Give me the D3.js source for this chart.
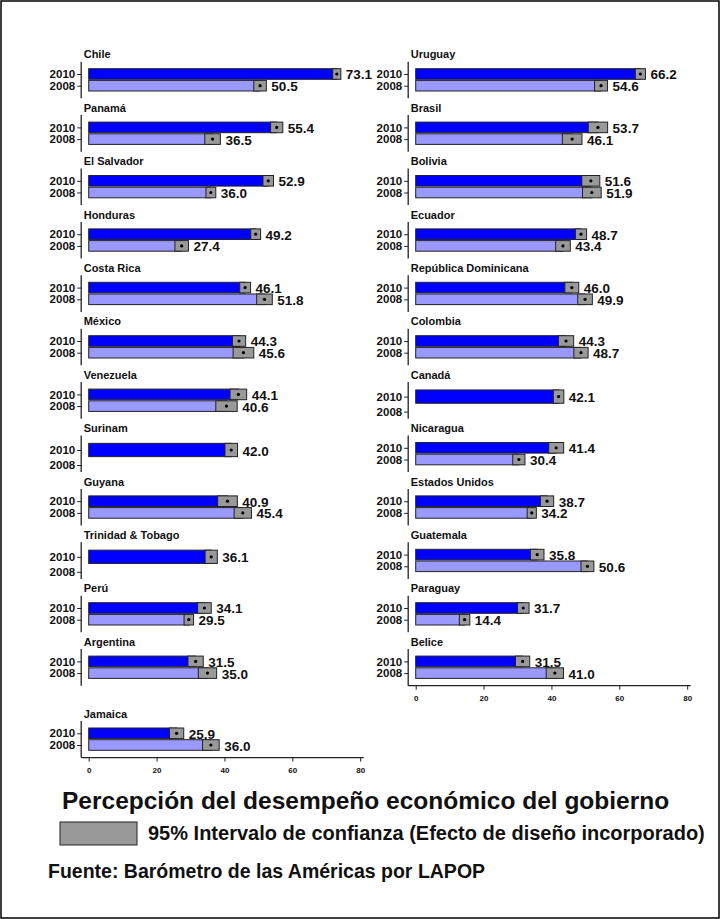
<!DOCTYPE html>
<html>
<head>
<meta charset="utf-8">
<script src="https://cdn.jsdelivr.net/npm/d3@7"></script>
<style>
  body { margin: 0; background: #fff; }
  text { font-family: "Liberation Sans", Arial, sans-serif; font-weight: bold; fill: #111; }
</style>
</head>
<body>
<div id="chart"></div>
<script>
const width = 720;
const height = 919;

// countries in rank order (2010), filled two per row
const countries = ["Chile", "Uruguay", "Panamá", "Brasil", "El Salvador", "Bolivia", "Honduras", "Ecuador",
  "Costa Rica", "República Dominicana", "México", "Colombia", "Venezuela", "Canadá", "Surinam", "Nicaragua",
  "Guyana", "Estados Unidos", "Trinidad & Tobago", "Guatemala", "Perú", "Paraguay", "Argentina", "Belice", "Jamaica"];
const v2010 = [73.1, 66.2, 55.4, 53.7, 52.9, 51.6, 49.2, 48.7, 46.1, 46.0, 44.3, 44.3, 44.1, 42.1, 42.0, 41.4,
  40.9, 38.7, 36.1, 35.8, 34.1, 31.7, 31.5, 31.5, 25.9];
const v2008 = [50.5, 54.6, 36.5, 46.1, 36.0, 51.9, 27.4, 43.4, 51.8, 49.9, 45.6, 48.7, 40.6, null, null, 30.4,
  45.4, 34.2, null, 50.6, 29.5, 14.4, 35.0, 41.0, 36.0];
// half width of the 95% interval
const ci2010 = [1.2, 1.5, 1.8, 2.85, 1.55, 2.65, 1.45, 1.65, 1.6, 2.05, 1.95, 2.25, 2.45, 1.55, 1.85, 2.2,
  2.9, 1.95, 1.8, 2.0, 2.0, 1.7, 2.25, 2.1, 2.1];
const ci2008 = [1.85, 1.9, 2.3, 2.9, 1.45, 2.75, 2.0, 2.15, 2.3, 2.15, 3.05, 2.1, 3.15, null, null, 1.8,
  2.55, 1.35, null, 1.9, 1.4, 1.55, 2.7, 2.55, 2.45];
const years = ["2010", "2008"];
const xTicks = [0, 20, 40, 60, 80];

const title = "Percepción del desempeño económico del gobierno";
const legendText = "95% Intervalo de confianza (Efecto de diseño incorporado)";
const source = "Fuente: Barómetro de las Américas por LAPOP";

const colors = { "2010": "#0000ff", "2008": "#9999ff" };
const ciFill = "#999999";

const svg = d3.select('#chart')
  .append('svg')
  .attr('width', width)
  .attr('height', height);

svg.append('rect')
  .attr('x', 1).attr('y', 1)
  .attr('width', width - 2).attr('height', height - 2)
  .attr('fill', 'none').attr('stroke', '#000').attr('stroke-width', 1.5);

// layout
const colX0 = [88.7, 415.7];
const plotW = 271.5;
const rowTop0 = 61.7;
const rowStep = 53.4;
const plotH = 36.6;
const lastRowShift = 18.5;

const xScales = colX0.map(x0 => d3.scaleLinear().domain([0, 80]).range([x0, x0 + plotW]));

const yFull = d3.scalePoint().domain(years).range([12.3, 24]);
const ySingle = d3.scalePoint().domain(years).range([14.5, 29.5]);

const panels = countries.map((c, i) => {
  const col = i % 2;
  const row = Math.floor(i / 2);
  const bars = [{ year: "2010", v: v2010[i], ci: ci2010[i] }];
  if (v2008[i] != null) bars.push({ year: "2008", v: v2008[i], ci: ci2008[i] });
  return { name: c, col, row, bars };
});

const lastRow = [0, 1].map(col => d3.max(panels.filter(p => p.col === col), p => p.row));

panels.forEach(p => {
  const x = xScales[p.col];
  const axisX = x(0) - 7.5;
  const top = rowTop0 + p.row * rowStep + (p.row === 12 ? lastRowShift : 0);
  const single = p.bars.length === 1;
  const y = single ? ySingle : yFull;
  const barH = single ? 13.3 : 10.6;

  const g = svg.append('g').attr('transform', `translate(0,${top})`);

  g.append('text')
    .attr('x', axisX + 2.5)
    .attr('y', -3.4)
    .attr('font-size', 11)
    .text(p.name);

  const yAxis = g.append('g')
    .attr('transform', `translate(${axisX},0)`)
    .call(d3.axisLeft(y).tickSize(4).tickPadding(2));
  yAxis.select('.domain').remove();
  yAxis.selectAll('line').attr('stroke', '#222');
  yAxis.selectAll('text')
    .attr('font-size', 11.5)
    .attr('font-family', '"Liberation Sans", Arial, sans-serif')
    .attr('fill', '#111');
  g.append('line')
    .attr('x1', axisX).attr('x2', axisX)
    .attr('y1', 0).attr('y2', plotH)
    .attr('stroke', '#222').attr('stroke-width', 1.3);

  const bar = g.selectAll('.bar')
    .data(p.bars)
    .enter()
    .append('g');

  bar.append('rect')
    .attr('x', x(0))
    .attr('y', d => y(d.year) - barH / 2)
    .attr('width', d => x(d.v) - x(0))
    .attr('height', barH)
    .attr('fill', d => colors[d.year])
    .attr('stroke', '#222')
    .attr('stroke-width', 1);

  bar.append('rect')
    .attr('x', d => x(d.v - d.ci))
    .attr('y', d => y(d.year) - barH / 2)
    .attr('width', d => x(d.v + d.ci) - x(d.v - d.ci))
    .attr('height', barH)
    .attr('fill', ciFill)
    .attr('stroke', '#222')
    .attr('stroke-width', 1);

  bar.append('circle')
    .attr('cx', d => x(d.v))
    .attr('cy', d => y(d.year))
    .attr('r', 1.6)
    .attr('fill', '#000');

  bar.append('text')
    .attr('x', d => x(d.v + d.ci) + 5)
    .attr('y', d => y(d.year) + 5.5)
    .attr('font-size', 13.5)
    .text(d => d.v.toFixed(1));

  if (p.row === lastRow[p.col]) {
    const xAxis = g.append('g')
      .attr('transform', `translate(0,${plotH})`)
      .call(d3.axisBottom(x).tickValues(xTicks).tickSize(4).tickPadding(6));
    xAxis.select('.domain').remove();
    xAxis.selectAll('line').attr('stroke', '#222');
    xAxis.selectAll('text')
      .attr('font-size', 8)
      .attr('font-family', '"Liberation Sans", Arial, sans-serif')
      .attr('fill', '#111');
    g.append('line')
      .attr('x1', axisX).attr('x2', x(80) + 3.5)
      .attr('y1', plotH).attr('y2', plotH)
      .attr('stroke', '#222').attr('stroke-width', 1.3);
  }
});

// title, legend, source
svg.append('text')
  .attr('x', 62).attr('y', 809)
  .attr('font-size', 24.5)
  .text(title);

svg.append('rect')
  .attr('x', 60).attr('y', 822)
  .attr('width', 77).attr('height', 23)
  .attr('fill', ciFill).attr('stroke', '#222').attr('stroke-width', 1);

svg.append('text')
  .attr('x', 148).attr('y', 840)
  .attr('font-size', 20)
  .text(legendText);

svg.append('text')
  .attr('x', 48).attr('y', 878)
  .attr('font-size', 19.5)
  .text(source);
</script>
</body>
</html>
